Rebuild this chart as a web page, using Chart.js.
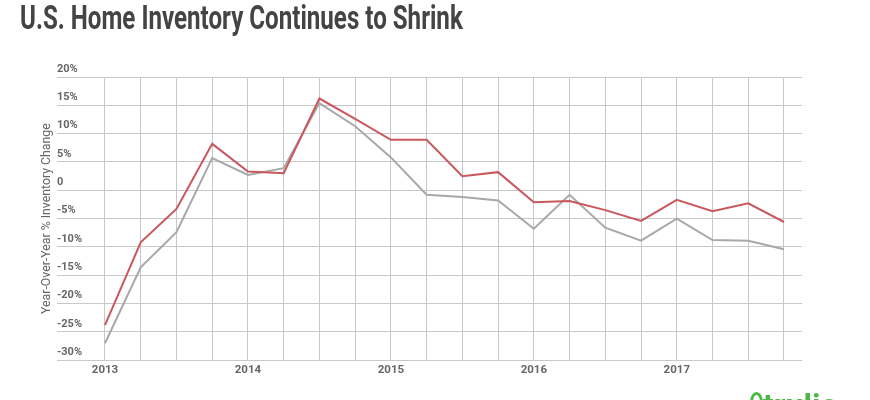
<!DOCTYPE html>
<html>
<head>
<meta charset="utf-8">
<script src="https://cdn.jsdelivr.net/npm/chart.js@4/dist/chart.umd.min.js"></script>
<style>
  html, body { margin: 0; padding: 0; background: #fff; overflow: hidden; }
  #wrap { position: relative; width: 870px; height: 400px; overflow: hidden; }
  #chart { position: absolute; left: 0; top: 0; }
  #title {
    position: absolute; left: 20px; top: 0;
    font: bold 34px Roboto, sans-serif; line-height: 34px;
    color: #444; white-space: nowrap; transform-origin: 0 0;
  }
  #logo {
    position: absolute; left: 763px; top: 389px;
    font: bold 32px Roboto, sans-serif; line-height: 32px;
    color: #4cb848; white-space: nowrap;
  }
  #logo-icon {
    position: absolute; left: 750px; top: 392px; width: 7px; height: 14px;
    border: 3px solid #4cb848; border-radius: 50% 50% 40% 40%;
  }
</style>
</head>
<body>
<div id="wrap">
  <canvas id="chart" width="870" height="400"></canvas>
  <div id="title">U.S. Home Inventory Continues to Shrink</div>
  <div id="logo-icon"></div>
  <div id="logo">trulia</div>
</div>
<script>
// Quarterly periods, Q1 2013 to Q4 2017
const periods = [
    '2013 Q1', '2013 Q2', '2013 Q3', '2013 Q4',
    '2014 Q1', '2014 Q2', '2014 Q3', '2014 Q4',
    '2015 Q1', '2015 Q2', '2015 Q3', '2015 Q4',
    '2016 Q1', '2016 Q2', '2016 Q3', '2016 Q4',
    '2017 Q1', '2017 Q2', '2017 Q3', '2017 Q4'
];
const redSeries = [-23.8, -9.2, -3.3, 8.2, 3.3, 3.0, 16.2, 12.6, 8.9, 8.9, 2.5, 3.2, -2.1, -1.9, -3.5, -5.4, -1.7, -3.7, -2.3, -5.6];
const graySeries = [-27.0, -13.6, -7.4, 5.7, 2.7, 3.9, 15.4, 11.3, 5.8, -0.8, -1.2, -1.8, -6.8, -0.8, -6.6, -8.9, -5.0, -8.8, -8.9, -10.4];
const yearTicks = [2013, 2014, 2015, 2016, 2017];

const gridColor = '#c8c8c8';
const labelColor = '#666';

// '2014 Q3' -> 2014.5
function periodToX(p) {
    const parts = p.split(' Q');
    return Number(parts[0]) + (Number(parts[1]) - 1) / 4;
}

function toPoints(values) {
    return values.map((v, i) => ({ x: periodToX(periods[i]), y: v }));
}

// squeeze the title into the condensed width of the original
const title = document.getElementById('title');
title.style.transform = `scaleX(${443 / title.offsetWidth})`;

new Chart(document.getElementById('chart'), {
    type: 'line',
    data: {
        datasets: [
            {
                label: 'Series 1',
                data: toPoints(redSeries),
                borderColor: '#c9585c',
                borderWidth: 2,
                pointRadius: 0,
                tension: 0
            },
            {
                label: 'Series 2',
                data: toPoints(graySeries),
                borderColor: '#a8a8a8',
                borderWidth: 2,
                pointRadius: 0,
                tension: 0
            }
        ]
    },
    options: {
        responsive: false,
        animation: false,
        layout: { padding: { left: 38.4, right: 68, top: 77, bottom: 20 } },
        plugins: {
            legend: { display: false },
            tooltip: { enabled: false }
        },
        scales: {
            x: {
                type: 'linear',
                min: 2012.664,
                max: 2017.876,
                border: { display: false },
                grid: {
                    color: ctx => (ctx.tick && ctx.tick.value >= 2013) ? gridColor : 'rgba(0,0,0,0)',
                    drawTicks: false
                },
                ticks: {
                    stepSize: 0.25,
                    includeBounds: false,
                    autoSkip: false,
                    maxRotation: 0,
                    padding: 3,
                    color: labelColor,
                    font: { family: 'Roboto', size: 11.5, weight: 'bold' },
                    callback: v => yearTicks.includes(v) ? String(v) : ''
                }
            },
            y: {
                min: -30,
                max: 20,
                border: { display: false },
                grid: { color: gridColor, drawTicks: false },
                ticks: {
                    stepSize: 5,
                    mirror: true,
                    labelOffset: -8,
                    padding: 0,
                    color: labelColor,
                    font: { family: 'Roboto', size: 11, weight: 'bold' },
                    callback: v => v === 0 ? '0' : v + '%'
                },
                title: {
                    display: true,
                    text: 'Year-Over-Year % Inventory Change',
                    color: labelColor,
                    font: { family: 'Roboto', size: 12.3 },
                    padding: { top: 1.2, bottom: 2.6 }
                }
            }
        }
    }
});
</script>
</body>
</html>
